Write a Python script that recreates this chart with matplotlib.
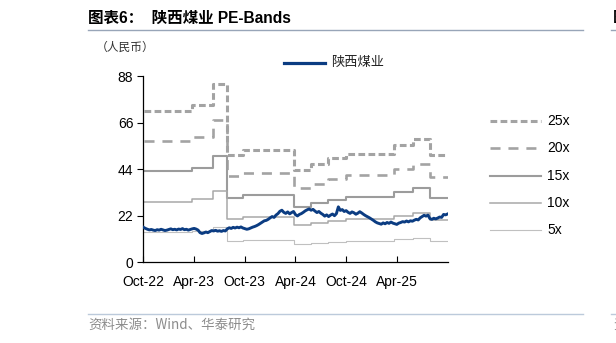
"""
PE-Bands chart for 陕西煤业
"""
import numpy as np
import pandas as pd
import matplotlib
matplotlib.use('Agg')
import matplotlib.pyplot as plt
import matplotlib.dates as mdates
from matplotlib.lines import Line2D

plt.rcParams['font.family'] = ['Liberation Sans', 'Noto Sans CJK SC', 'DejaVu Sans']
#----------------------------DATA-------------------------------#
# weekly close price (RMB), from 2022-10-03
price = [16.5, 16.0, 15.6, 15.3, 15.5,
         15.2, 15.0, 15.4, 15.2,
         15.6, 15.3, 15.0, 15.2,
         15.5, 15.8, 15.4, 15.6, 15.3,
         15.7, 15.5, 15.9, 15.4,
         15.6, 15.2, 15.5, 15.8,
         16.0, 15.7, 15.2, 14.0,
         13.6, 13.9, 14.3, 14.0, 14.5,
         15.0, 14.8, 15.1, 14.7,
         14.9, 14.6, 15.0, 14.8,
         15.8, 16.3, 16.0, 16.5, 16.2,
         16.6, 16.3, 16.7, 16.2,
         15.9, 15.6, 15.8, 16.2,
         16.6, 16.9, 17.3, 17.8,
         18.4, 19.0, 19.6, 19.8, 20.3,
         21.0, 21.6, 21.2, 22.3,
         23.0, 24.1, 24.6, 23.6,
         23.1, 23.8, 22.9, 23.5, 24.0,
         22.5, 21.9, 22.6, 23.0,
         23.6, 24.3, 24.8, 25.2,
         24.6, 25.0, 24.2, 23.5, 24.0,
         23.2, 22.6, 21.8, 22.4,
         21.6, 22.3, 22.8, 22.0,
         23.0, 26.2, 24.5, 24.9, 24.0,
         24.4, 23.6, 23.1, 23.8,
         23.4, 22.7, 23.2, 23.9,
         23.3, 22.6, 22.0, 21.5, 21.0,
         20.4, 19.8, 19.1, 18.6,
         18.3, 18.0, 18.6, 18.2,
         18.8, 18.4, 19.0, 18.5,
         18.2, 17.9, 18.5, 18.8, 19.2,
         19.0, 19.5, 19.1, 19.6,
         19.4, 19.9, 20.3, 20.0,
         21.0, 21.6, 22.2, 21.8, 22.3,
         20.6, 20.3, 20.8, 20.5,
         20.9, 21.4, 21.2, 22.6, 22.4, 22.8]

# EPS steps (RMB / share) and the dates they take effect
eps_dates = ['2022-10-03', '2023-03-25', '2023-06-10', '2023-07-31',
             '2023-09-25', '2024-03-28', '2024-05-25', '2024-07-28',
             '2024-10-01', '2025-03-20', '2025-05-28', '2025-07-30',
             '2025-09-30']
eps = [2.864, 2.97, 3.36, 2.03, 2.12, 1.744, 1.86, 1.964, 2.055,
       2.21, 2.33, 2.02, 2.02]

multiples = [25, 20, 15, 10, 5]
band_labels = ['25x', '20x', '15x', '10x', '5x']
yticks = [0, 22, 44, 66, 88]
xtick_dates = ['2022-10-01', '2023-04-01', '2023-10-01',
               '2024-04-01', '2024-10-01', '2025-04-01']
#---------------------------------------------------------------#
price_dates = pd.date_range('2022-10-03', periods=len(price), freq='7D')
step_dates = pd.to_datetime(eps_dates)
eps = np.array(eps)

band_styles = {
    25: dict(color='#A3A3A3', lw=2.2, dashes=(2.2, 1.1)),
    20: dict(color='#A3A3A3', lw=1.9, dashes=(3.8, 3.0)),
    15: dict(color='#9C9C9C', lw=1.5),
    10: dict(color='#A8A8A8', lw=1.1),
    5: dict(color='#C0C0C0', lw=0.8),
}

fig = plt.figure(figsize=(6.16, 3.43), dpi=100)
ax = fig.add_axes([0.2321, 0.2353, 0.4952, 0.5431])

for m in multiples:
    st = band_styles[m]
    kw = dict(color=st['color'], lw=st['lw'], drawstyle='steps-post')
    if 'dashes' in st:
        kw['dashes'] = st['dashes']
    ax.plot(step_dates, eps * m, **kw)

ax.plot(price_dates, price, color='#0B3C82', lw=2.1, zorder=5)

ax.set_ylim(0, 88)
ax.set_yticks(yticks)
ax.set_xlim(pd.Timestamp('2022-10-01'), pd.Timestamp('2025-10-01'))
ax.set_xticks(pd.to_datetime(xtick_dates))
ax.xaxis.set_major_formatter(mdates.DateFormatter('%b-%y'))
ax.tick_params(axis='y', direction='out', length=4, width=0.8, labelsize=10, pad=3)
ax.tick_params(axis='x', direction='in', length=4, width=0.8, labelsize=10, pad=9)
for s in ['top', 'right']:
    ax.spines[s].set_visible(False)
for s in ['left', 'bottom']:
    ax.spines[s].set_linewidth(0.9)

# top legend
fig.add_artist(Line2D([284 / 616, 325 / 616], [1 - 62.5 / 343] * 2,
                      transform=fig.transFigure, color='#0B3C82', lw=2.3))
fig.text(331 / 616, 1 - 62.5 / 343, '陕西煤业', fontsize=9.5,
         family=['Noto Sans CJK SC'], va='center', ha='left', color='#222222')

# band legend
row_y = [121, 148, 176, 203, 230]
for m, lab, y in zip(multiples, band_labels, row_y):
    st = band_styles[m]
    kw = dict(transform=fig.transFigure, color=st['color'], lw=st['lw'])
    if 'dashes' in st:
        kw['dashes'] = st['dashes']
    fig.add_artist(Line2D([490 / 616, 541 / 616], [1 - y / 343] * 2, **kw))
    fig.text(547 / 616, 1 - y / 343, lab, fontsize=10, va='center', ha='left')

# title, unit, source
fig.text(88 / 616, 1 - 18 / 343, '图表6：  陕西煤业 PE-Bands', fontsize=11.2,
         fontweight='bold', va='center', ha='left')
fig.text(613 / 616, 1 - 18 / 343, '图', fontsize=11, fontweight='bold',
         va='center', ha='left')
fig.add_artist(Line2D([88 / 616, 583 / 616], [1 - 29.5 / 343] * 2,
                      transform=fig.transFigure, color='#98A5B8', lw=1.0))
fig.add_artist(Line2D([611 / 616, 1.0], [1 - 29.5 / 343] * 2,
                      transform=fig.transFigure, color='#98A5B8', lw=1.0))
fig.text(96 / 616, 1 - 47 / 343, '（人民币）', fontsize=8.5,
         family=['Noto Sans CJK SC'], va='center', ha='left', color='#333333')
fig.add_artist(Line2D([88 / 616, 583 / 616], [1 - 313.5 / 343] * 2,
                      transform=fig.transFigure, color='#BCCADB', lw=1.0))
fig.add_artist(Line2D([611 / 616, 1.0], [1 - 313.5 / 343] * 2,
                      transform=fig.transFigure, color='#BCCADB', lw=1.0))
fig.text(88 / 616, 1 - 325 / 343, '资料来源：Wind、华泰研究', fontsize=9.7,
         family=['Noto Sans CJK SC', 'Liberation Sans'], va='center',
         ha='left', color='#8C8C8C')
fig.text(613 / 616, 1 - 325 / 343, '资', fontsize=9.5,
         family=['Noto Sans CJK SC'], va='center', ha='left', color='#8C8C8C')

plt.savefig('out.png', dpi=100)
